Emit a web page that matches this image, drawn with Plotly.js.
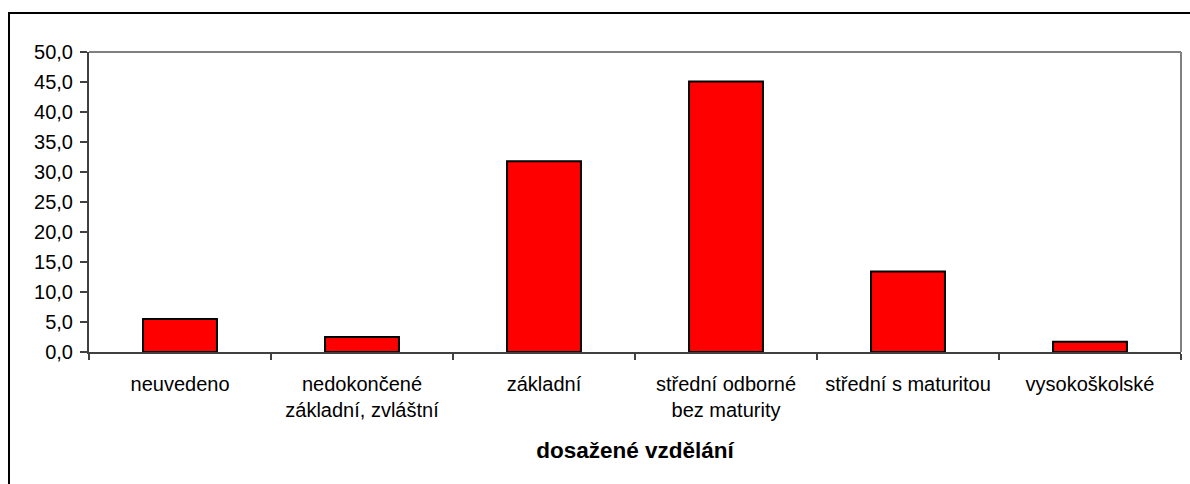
<!DOCTYPE html>
<html>
<head>
<meta charset="utf-8">
<script src="https://cdn.plot.ly/plotly-3.0.1.min.js"></script>
<style>
  html, body { margin: 0; padding: 0; background: #fff; overflow: hidden; }
  #wrap { position: relative; width: 1190px; height: 484px; }
  #chart { position: absolute; left: 0; top: 0; width: 1190px; height: 484px; }
  #frame { position: absolute; left: 8px; top: 12px; width: 1300px; height: 600px;
           border-top: 2px solid #000; border-left: 2px solid #000; pointer-events: none; }
</style>
</head>
<body>
<div id="wrap">
  <div id="chart"></div>
  <div id="frame"></div>
</div>
<script>
const categories = [
  "neuvedeno",
  "nedokončené<br>základní, zvláštní",
  "základní",
  "střední odborné<br>bez maturity",
  "střední s maturitou",
  "vysokoškolské"
];
const values = [5.5, 2.5, 31.8, 45.1, 13.4, 1.7];
const yTickValues = [0, 5, 10, 15, 20, 25, 30, 35, 40, 45, 50];
const xAxisTitle = "dosažené vzdělání";

const FONT = "'Liberation Sans', Arial, sans-serif";

const trace = {
  type: "bar",
  x: categories,
  y: values,
  marker: { color: "#FF0000", line: { color: "#000000", width: 2 } },
  hoverinfo: "none"
};

const layout = {
  width: 1190,
  height: 484,
  margin: { l: 89, r: 9, t: 52, b: 132, pad: 0 },
  paper_bgcolor: "rgba(0,0,0,0)",
  plot_bgcolor: "#ffffff",
  separators: ", ",
  showlegend: false,
  bargap: 0.594,
  font: { family: FONT, size: 20, color: "#000" },
  xaxis: {
    type: "category",
    showgrid: false,
    zeroline: false,
    showline: true,
    linecolor: "#404040",
    linewidth: 2,
    ticks: "outside",
    tickson: "boundaries",
    ticklen: 6,
    tickwidth: 1.5,
    tickcolor: "#404040",
    ticklabelstandoff: 13,
    tickfont: { family: FONT, size: 20, color: "#000" },
    title: { text: xAxisTitle, font: { family: FONT, size: 22.5, color: "#000", weight: "bold" }, standoff: 22 }
  },
  yaxis: {
    range: [0, 50],
    tickvals: yTickValues,
    tickformat: ".1f",
    showgrid: false,
    zeroline: false,
    showline: true,
    linecolor: "#404040",
    linewidth: 2,
    ticks: "outside",
    ticklen: 7,
    tickwidth: 1.5,
    tickcolor: "#404040",
    ticklabelstandoff: 3,
    tickfont: { family: FONT, size: 20, color: "#000" }
  },
  shapes: [
    { type: "line", xref: "paper", yref: "paper", x0: 0, x1: 1, y0: 1, y1: 1,
      line: { color: "#808080", width: 2 } },
    { type: "line", xref: "paper", yref: "paper", x0: 1, x1: 1, y0: 0, y1: 1,
      line: { color: "#808080", width: 2 } }
  ]
};

Plotly.newPlot("chart", [trace], layout, { displayModeBar: false, staticPlot: true });
</script>
</body>
</html>
